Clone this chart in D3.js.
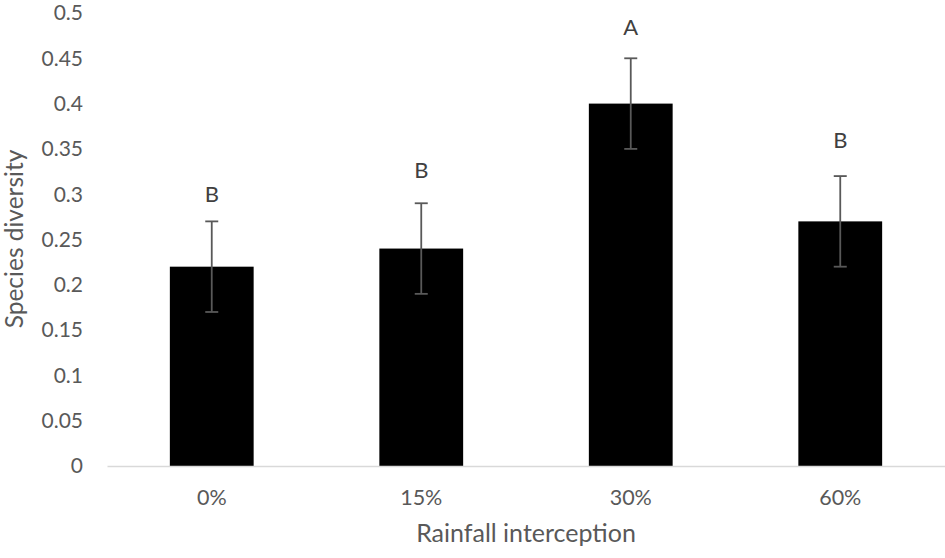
<!DOCTYPE html>
<html>
<head>
<meta charset="utf-8">
<script src="https://cdn.jsdelivr.net/npm/d3@7"></script>
<style>
    body { margin: 0; background: #fff; }
    text { font-family: Lato, "Open Sans", sans-serif; }
</style>
</head>
<body>
<svg id="chart" width="945" height="558"></svg>
<script>
// chart values
var categories = ["0%", "15%", "30%", "60%"];
var diversity = [0.22, 0.24, 0.40, 0.27];
var errors = [0.05, 0.05, 0.05, 0.05];
var letters = ["B", "B", "A", "B"];
var letterLevel = [0.291, 0.318, 0.476, 0.351];
var yTicks = [0, 0.05, 0.1, 0.15, 0.2, 0.25, 0.3, 0.35, 0.4, 0.45, 0.5];

var svg = d3.select("#chart"),
    margin = {top: 13, right: 0, bottom: 92, left: 107},
    width = svg.attr("width") - margin.left - margin.right,
    height = svg.attr("height") - margin.top - margin.bottom;

var x = d3.scaleBand()
    .domain(categories)
    .range([0, width])
    .paddingInner(0.6)
    .paddingOuter(0.3);

var y = d3.scaleLinear()
    .domain([0, 0.5])
    .range([height, 0]);

var g = svg.append("g")
    .attr("transform", "translate(" + margin.left + "," + margin.top + ")");

// y axis labels (no line, no ticks)
g.append("g")
    .selectAll("text")
    .data(yTicks)
    .join("text")
    .attr("x", -24)
    .attr("y", d => y(d))
    .attr("dy", "0.35em")
    .attr("text-anchor", "end")
    .style("font-size", "21px")
    .style("fill", "#595959")
    .text(d => d3.format("")(d));

// bars
g.append("g")
    .selectAll("rect")
    .data(diversity)
    .join("rect")
    .attr("x", (d, i) => x(categories[i]))
    .attr("y", d => y(d))
    .attr("width", x.bandwidth())
    .attr("height", d => height - y(d))
    .style("fill", "#000");

// x axis
var xAxis = g.append("g")
    .attr("transform", "translate(0," + height + ")")
    .call(d3.axisBottom(x).tickSize(0).tickPadding(24));
xAxis.select(".domain").attr("stroke", "#d9d9d9").attr("stroke-width", 1.5);
xAxis.selectAll("text")
    .style("font-family", "Lato, sans-serif")
    .style("font-size", "21.5px")
    .style("fill", "#595959");

// error bars
var cx = i => x(categories[i]) + x.bandwidth() / 2;
var err = g.append("g")
    .attr("stroke", "#595959")
    .attr("stroke-width", 1.8);
err.selectAll(".stem")
    .data(diversity)
    .join("line")
    .attr("x1", (d, i) => cx(i))
    .attr("x2", (d, i) => cx(i))
    .attr("y1", (d, i) => y(d - errors[i]))
    .attr("y2", (d, i) => y(d + errors[i]));
err.selectAll(".capTop")
    .data(diversity)
    .join("line")
    .attr("x1", (d, i) => cx(i) - 6.5)
    .attr("x2", (d, i) => cx(i) + 6.5)
    .attr("y1", (d, i) => y(d + errors[i]))
    .attr("y2", (d, i) => y(d + errors[i]));
err.selectAll(".capBottom")
    .data(diversity)
    .join("line")
    .attr("class", "capBottom")
    .attr("x1", (d, i) => cx(i) - 6.5)
    .attr("x2", (d, i) => cx(i) + 6.5)
    .attr("y1", (d, i) => y(d - errors[i]))
    .attr("y2", (d, i) => y(d - errors[i]));

// significance letters
g.append("g")
    .selectAll("text")
    .data(letters)
    .join("text")
    .attr("x", (d, i) => cx(i))
    .attr("y", (d, i) => y(letterLevel[i]))
    .attr("text-anchor", "middle")
    .style("font-size", "22px")
    .style("fill", "#404040")
    .text(d => d);

// axis titles
svg.append("text")
    .attr("x", margin.left + width / 2)
    .attr("y", 542)
    .attr("text-anchor", "middle")
    .style("font-size", "25px")
    .style("fill", "#595959")
    .text("Rainfall interception");

svg.append("text")
    .attr("transform", "translate(23,239) rotate(-90)")
    .attr("text-anchor", "middle")
    .style("font-size", "24.5px")
    .style("fill", "#595959")
    .text("Species diversity");
</script>
</body>
</html>
